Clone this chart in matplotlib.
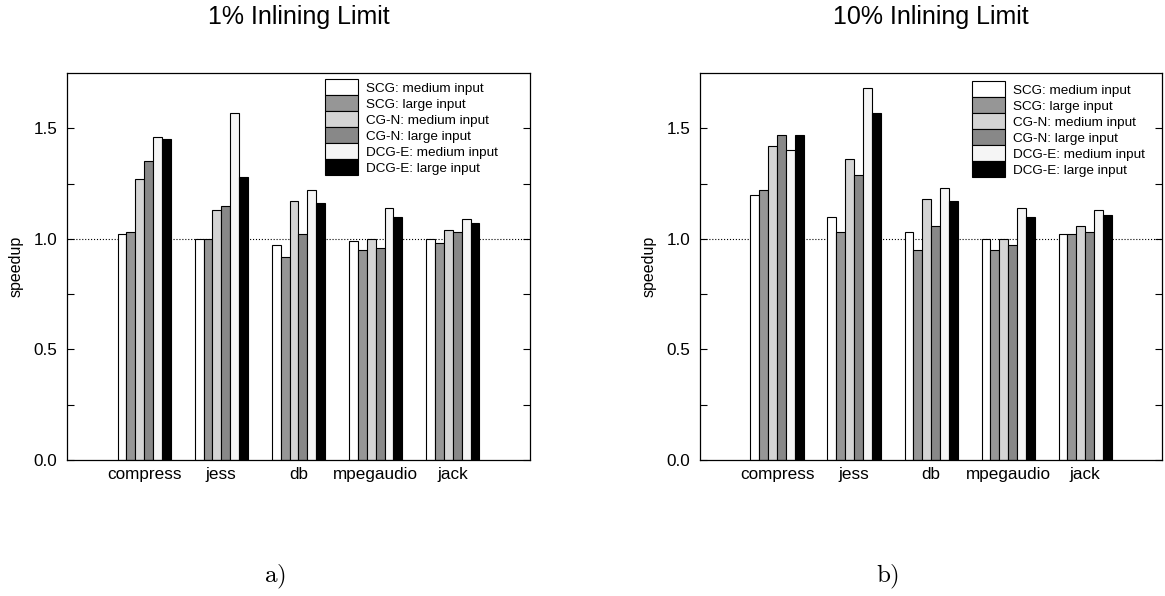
import matplotlib.pyplot as plt
import numpy as np

plt.rcParams['font.family'] = ['Liberation Sans', 'DejaVu Sans']
plt.rcParams['mathtext.fontset'] = 'cm'

# benchmark names and series labels
benchmarks = ["compress", "jess", "db", "mpegaudio", "jack"]
series = ["SCG: medium input", "SCG: large input", "CG-N: medium input",
          "CG-N: large input", "DCG-E: medium input", "DCG-E: large input"]
colors = ["#ffffff", "#969696", "#d4d4d4", "#888888", "#f5f5f5", "#000000"]

# speedups, one list per series (1% limit)
scg_med_1 = [1.02, 1.00, 0.97, 0.99, 1.00]
scg_large_1 = [1.03, 1.00, 0.92, 0.95, 0.98]
cgn_med_1 = [1.27, 1.13, 1.17, 1.00, 1.04]
cgn_large_1 = [1.35, 1.15, 1.02, 0.96, 1.03]
dcg_med_1 = [1.46, 1.57, 1.22, 1.14, 1.09]
dcg_large_1 = [1.45, 1.28, 1.16, 1.10, 1.07]

# 10% limit
scg_med_10 = [1.20, 1.10, 1.03, 1.00, 1.02]
scg_large_10 = [1.22, 1.03, 0.95, 0.95, 1.02]
cgn_med_10 = [1.42, 1.36, 1.18, 1.00, 1.06]
cgn_large_10 = [1.47, 1.29, 1.06, 0.97, 1.03]
dcg_med_10 = [1.40, 1.68, 1.23, 1.14, 1.13]
dcg_large_10 = [1.47, 1.57, 1.17, 1.10, 1.11]

panels = [
    ("1% Inlining Limit", "a)",
     [scg_med_1, scg_large_1, cgn_med_1, cgn_large_1, dcg_med_1, dcg_large_1],
     [0.0575, 0.2282, 0.3974, 0.6493], (0.557, 0.984), 0.236),
    ("10% Inlining Limit", "b)",
     [scg_med_10, scg_large_10, cgn_med_10, cgn_large_10, dcg_med_10, dcg_large_10],
     [0.6009, 0.2282, 0.3966, 0.6493], (0.588, 0.979), 0.762),
]

fig = plt.figure(figsize=(11.65, 5.96), dpi=100)

x = np.arange(1, len(benchmarks) + 1)
w = 0.115

for title, cap, data, rect, leg_pos, cap_x in panels:
    ax = fig.add_axes(rect)
    for i, vals in enumerate(data):
        offs = (i - 2.5) * w
        ax.bar(x + offs, vals, width=w, color=colors[i], edgecolor="black",
               linewidth=0.8, label=series[i], zorder=2)
    ax.axhline(1.0, color="black", linestyle=":", linewidth=0.8, zorder=1)

    ax.set_xlim(0, 6)
    ax.set_ylim(0, 1.75)
    ax.set_xticks(x)
    ax.set_xticklabels(benchmarks, fontsize=12.3)
    ax.set_yticks([0, 0.5, 1.0, 1.5])
    ax.set_yticklabels(["0.0", "0.5", "1.0", "1.5"], fontsize=12.3)
    ax.set_yticks([0.25, 0.75, 1.25], minor=True)
    ax.tick_params(axis="y", which="both", direction="in", length=5,
                   width=0.8, right=True, pad=7)
    ax.tick_params(axis="x", length=0, pad=5)
    ax.set_ylabel("speedup", fontsize=11.5, labelpad=7)
    for sp in ax.spines.values():
        sp.set_linewidth(0.9)

    # panel title sits high above the axes
    fig.text(rect[0] + rect[2] / 2, 0.971, title, fontsize=18,
             ha="center", va="center")

    ax.legend(loc="upper left", bbox_to_anchor=leg_pos, frameon=False,
              fontsize=9.7, handlelength=2.45, handleheight=1.45,
              labelspacing=0, handletextpad=0.6, borderpad=0,
              borderaxespad=0)

    fig.text(cap_x, 0.032, r"$\mathrm{" + cap + "}$",
             fontsize=18, ha="center", va="center")

fig.savefig("out.png", dpi=100)
